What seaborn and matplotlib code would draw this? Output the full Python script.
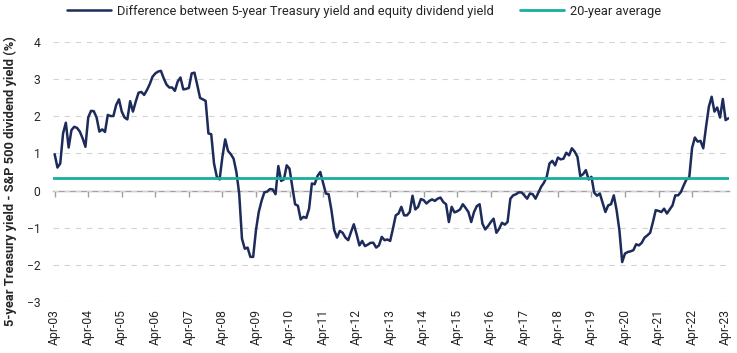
import numpy as np
import pandas as pd
import seaborn as sns
import matplotlib.pyplot as plt

# monthly spread, Apr-03 onwards (5y Treasury yield minus S&P 500 dividend yield, %)
diff = [
    0.98, 0.62, 0.73, 1.54, 1.83, 1.16, 1.63, 1.72, 1.69, 1.59, 1.41, 1.18,
    1.97, 2.15, 2.14, 1.97, 1.59, 1.65, 1.58, 2.04, 2.01, 2.01, 2.31, 2.46,
    2.13, 1.97, 1.92, 2.41, 2.13, 2.40, 2.64, 2.66, 2.58, 2.71, 2.87, 3.07,
    3.16, 3.21, 3.23, 3.03, 2.86, 2.78, 2.78, 2.69, 2.94, 3.05, 2.73, 2.74,
    2.77, 3.16, 3.18, 2.85, 2.50, 2.46, 2.42, 1.54, 1.52, 0.73, 0.37, 0.30,
    0.91, 1.38, 1.07, 0.98, 0.86, 0.50, -0.08, -1.30, -1.57, -1.54, -1.79, -1.79,
    -1.07, -0.58, -0.28, -0.05, -0.03, 0.04, 0.03, -0.10, 0.66, 0.26, 0.30, 0.68,
    0.59, 0.10, -0.37, -0.41, -0.78, -0.71, -0.74, -0.49, 0.19, 0.17, 0.39, 0.50,
    0.21, -0.08, -0.10, -0.53, -1.07, -1.27, -1.09, -1.14, -1.27, -1.34, -1.12, -0.91,
    -1.18, -1.48, -1.36, -1.50, -1.46, -1.41, -1.41, -1.54, -1.48, -1.25, -1.34, -1.32,
    -1.36, -1.03, -0.67, -0.62, -0.44, -0.67, -0.67, -0.58, -0.14, -0.51, -0.44, -0.23,
    -0.26, -0.35, -0.28, -0.24, -0.28, -0.22, -0.19, -0.31, -0.37, -0.85, -0.44, -0.59,
    -0.56, -0.51, -0.37, -0.47, -0.58, -0.85, -0.58, -0.42, -0.37, -0.89, -1.05, -0.96,
    -0.85, -0.76, -1.14, -1.03, -0.87, -0.92, -0.85, -0.22, -0.13, -0.10, -0.05, -0.05,
    -0.13, -0.22, -0.08, -0.10, -0.22, -0.06, 0.10, 0.21, 0.37, 0.73, 0.80, 0.68,
    0.89, 0.84, 0.86, 1.02, 0.95, 1.14, 1.05, 0.91, 0.39, 0.44, 0.55, 0.30,
    0.37, -0.06, -0.14, -0.08, -0.33, -0.58, -0.40, -0.37, -0.13, -0.53, -1.07, -1.93,
    -1.70, -1.66, -1.64, -1.61, -1.45, -1.48, -1.41, -1.27, -1.21, -1.14, -0.85, -0.53,
    -0.55, -0.58, -0.49, -0.62, -0.51, -0.40, -0.13, -0.13, -0.04, 0.14, 0.30, 0.36,
    1.15, 1.43, 1.32, 1.34, 1.14, 1.72, 2.26, 2.53, 2.13, 2.24, 1.97, 2.47,
    1.90, 1.95,
]
avg_20y = 0.35
tick_labels = ['Apr-03', 'Apr-04', 'Apr-05', 'Apr-06', 'Apr-07', 'Apr-08', 'Apr-09',
               'Apr-10', 'Apr-11', 'Apr-12', 'Apr-13', 'Apr-14', 'Apr-15', 'Apr-16',
               'Apr-17', 'Apr-18', 'Apr-19', 'Apr-20', 'Apr-21', 'Apr-22', 'Apr-23']

navy = '#1c2b59'
teal = '#1aae9f'

sns.set_style('white')
plt.rcParams['font.family'] = ['Roboto', 'DejaVu Sans']

df = pd.DataFrame({'month': np.arange(len(diff)), 'diff': diff})

fig = plt.figure(figsize=(7.37, 3.53), dpi=100)
ax = fig.add_axes([0.0719, 0.1453, 0.9176, 0.7349])

sns.lineplot(data=df, x='month', y='diff', ax=ax, color=navy, lw=1.8,
             label='Difference between 5-year Treasury yield and equity dividend yield')
ax.axhline(avg_20y, color=teal, lw=2, label='20-year average', zorder=3)

ax.set_ylim(-3, 4)
ax.set_yticks(range(-3, 5))
ax.set_xlim(-0.6, 241.3)
ax.yaxis.grid(True, color='#d4d4d4', lw=0.8, ls=(0, (5, 5)))
ax.xaxis.grid(False)
for s in ax.spines.values():
    s.set_visible(False)

pos = list(range(0, 12 * len(tick_labels), 12))
ax.set_xticks(pos, tick_labels, rotation=90)
ax.tick_params(axis='both', length=0, labelsize=8.7, colors='#262626')
ax.tick_params(axis='y', pad=9)
ax.tick_params(axis='x', pad=5)
ax.set_xlabel('')
ax.set_ylabel('')

# x axis line sits on zero
zero = ax.secondary_xaxis(3 / 7)
zero.set_xticks(pos[:-1], [])
zero.tick_params(length=4, color='#a0a0a0', width=1)
zero.spines['bottom'].set_color('#a0a0a0')
zero.spines['bottom'].set_linewidth(1)
zero.spines['top'].set_visible(False)

fig.text(0.0136, 1 - 181 / 353, '5-year Treasury yield - S&P 500 dividend yield (%)',
         rotation=90, ha='center', va='center', fontsize=9.3, fontweight='bold',
         color='#262626')

ax.legend_.remove()
h, l = ax.get_legend_handles_labels()
fig.legend(h, l, loc='center', bbox_to_anchor=(0.494, 0.968), ncol=2, frameon=False,
           fontsize=9.3, handlelength=3.4, columnspacing=2.0, handletextpad=0.5)

fig.savefig('out.png', dpi=100)
